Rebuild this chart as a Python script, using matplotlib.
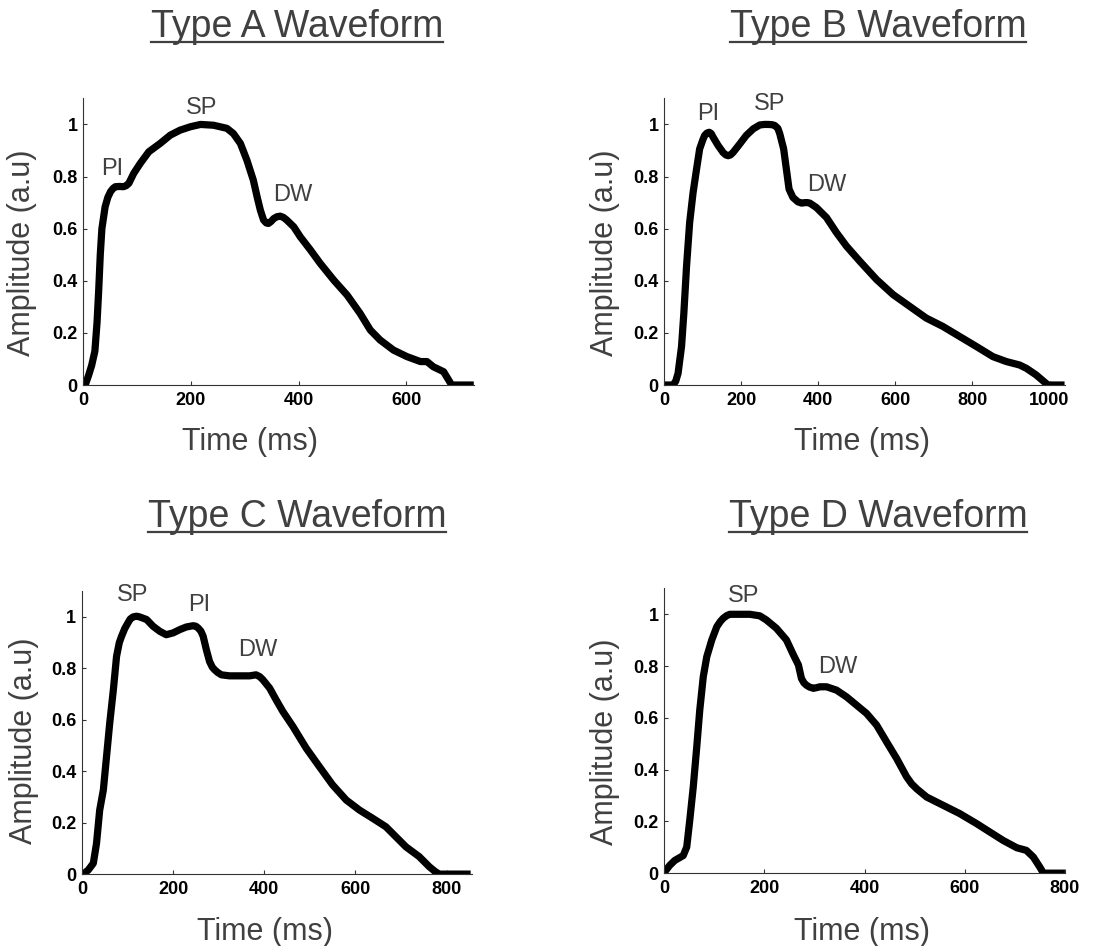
import matplotlib
matplotlib.use("Agg")
import matplotlib.pyplot as plt
from matplotlib.lines import Line2D

plt.rcParams['font.family'] = ['Liberation Sans', 'DejaVu Sans']

GRAY = '#404040'

# --- data (time in ms, normalised amplitude) ---
a_time = [0, 4, 10, 16, 22, 26, 29, 32, 35, 41, 46, 51, 56, 60, 68, 75, 80, 85, 94, 106,
          122, 143, 162, 180, 199, 218, 242, 267, 279, 292, 304, 316, 323, 329, 335, 340,
          344, 349, 354, 360, 366, 372, 378, 391, 403, 422, 440, 465, 490, 514, 533, 551,
          576, 601, 626, 638, 650, 669, 684, 725]
a_amp = [0, 0, 0.035, 0.075, 0.13, 0.24, 0.36, 0.5, 0.6, 0.684, 0.72, 0.742, 0.755, 0.761,
         0.762, 0.761, 0.765, 0.774, 0.812, 0.85, 0.895, 0.927, 0.959, 0.978, 0.991, 1.0,
         0.997, 0.985, 0.965, 0.927, 0.863, 0.786, 0.722, 0.671, 0.633, 0.622, 0.62, 0.628,
         0.639, 0.646, 0.648, 0.643, 0.633, 0.607, 0.569, 0.518, 0.467, 0.403, 0.345, 0.275,
         0.211, 0.173, 0.134, 0.109, 0.09, 0.09, 0.07, 0.051, 0.0, 0.0]

b_time = [0, 23, 30, 36, 45, 51, 58, 66, 75, 84, 92, 100, 105, 111, 117, 122, 127, 140, 153,
          160, 166, 172, 179, 196, 213, 231, 248, 260, 270, 280, 287, 295, 300, 310, 317, 324,
          334, 347, 357, 365, 372, 378, 395, 421, 447, 473, 507, 551, 594, 637, 680, 723,
          767, 810, 853, 888, 922, 940, 965, 996, 1039]
b_amp = [0, 0, 0.015, 0.045, 0.148, 0.276, 0.456, 0.623, 0.739, 0.829, 0.906, 0.94, 0.958,
         0.967, 0.97, 0.965, 0.951, 0.919, 0.892, 0.883, 0.88, 0.883, 0.893, 0.925, 0.958,
         0.983, 0.998, 1.0, 1.0, 0.999, 0.996, 0.985, 0.964, 0.906, 0.829, 0.752, 0.72,
         0.703, 0.698, 0.70, 0.70, 0.698, 0.681, 0.643, 0.585, 0.533, 0.476, 0.405, 0.347,
         0.302, 0.257, 0.225, 0.186, 0.148, 0.109, 0.09, 0.077, 0.064, 0.039, 0.0, 0.0]

c_time = [0, 3, 14, 25, 32, 39, 47, 54, 61, 69, 76, 82, 87, 94, 101, 106, 112, 120, 127, 142,
          156, 171, 185, 200, 215, 229, 244, 250, 255, 261, 266, 273, 280, 286, 291, 298,
          306, 324, 346, 368, 382, 390, 397, 412, 426, 441, 463, 492, 521, 550, 580, 609,
          638, 667, 689, 711, 740, 762, 775, 784, 853]
c_amp = [0, 0, 0.016, 0.042, 0.119, 0.249, 0.327, 0.457, 0.587, 0.717, 0.847, 0.9, 0.925,
         0.955, 0.977, 0.992, 1.0, 1.003, 1.0, 0.99, 0.964, 0.944, 0.931, 0.938, 0.951,
         0.961, 0.966, 0.964, 0.957, 0.945, 0.925, 0.873, 0.827, 0.805, 0.795, 0.784, 0.775,
         0.771, 0.771, 0.771, 0.775, 0.768, 0.756, 0.723, 0.678, 0.632, 0.574, 0.49, 0.418,
         0.347, 0.288, 0.249, 0.217, 0.184, 0.145, 0.106, 0.068, 0.029, 0.01, 0.0, 0.0]

d_time = [0, 3, 11, 21, 38, 45, 51, 58, 65, 71, 78, 85, 95, 105, 112, 118, 125, 131, 151, 171,
          191, 204, 224, 244, 258, 268, 274, 279, 284, 290, 298, 305, 311, 324, 344, 364,
          384, 404, 424, 444, 464, 484, 494, 504, 524, 557, 590, 624, 650, 677, 704, 723,
          737, 750, 757, 800]
d_amp = [0.01, 0.01, 0.03, 0.049, 0.068, 0.101, 0.204, 0.333, 0.488, 0.63, 0.759, 0.836,
         0.901, 0.952, 0.972, 0.985, 0.995, 1.0, 1.0, 1.0, 0.994, 0.978, 0.946, 0.901,
         0.843, 0.804, 0.752, 0.735, 0.726, 0.719, 0.714, 0.717, 0.72, 0.72, 0.707, 0.681,
         0.649, 0.617, 0.572, 0.507, 0.443, 0.372, 0.345, 0.326, 0.294, 0.262, 0.23, 0.191,
         0.159, 0.126, 0.098, 0.088, 0.062, 0.023, 0.0, 0.0]

titles = ["Type A Waveform", "Type B Waveform", "Type C Waveform", "Type D Waveform"]
x_limits = [725, 1040, 855, 800]
x_ticks = [[0, 200, 400, 600], [0, 200, 400, 600, 800, 1000],
           [0, 200, 400, 600, 800], [0, 200, 400, 600, 800]]
y_ticks = [0, 0.2, 0.4, 0.6, 0.8, 1]
y_tick_labels = ["0", "0.2", "0.4", "0.6", "0.8", "1"]

# peak labels: (text, time, amplitude)
peaks = [
    [("PI", 54, 0.83), ("SP", 220, 1.065), ("DW", 389, 0.728)],
    [("PI", 114, 1.04), ("SP", 273, 1.077), ("DW", 421, 0.768)],
    [("SP", 112, 1.085), ("PI", 257, 1.047), ("DW", 385, 0.872)],
    [("SP", 158, 1.07), ("DW", 346, 0.795)],
]

series = [(a_time, a_amp), (b_time, b_amp), (c_time, c_amp), (d_time, d_amp)]

# layout (figure fractions)
axes_rects = [[0.075, 0.593, 0.353, 0.303], [0.600, 0.593, 0.362, 0.303],
              [0.074, 0.076, 0.352, 0.299], [0.600, 0.077, 0.362, 0.301]]
title_pos = [(297 / 1107, 1 - 37 / 946), (878 / 1107, 1 - 37 / 946),
             (297 / 1107, 1 - 527 / 946), (878 / 1107, 1 - 527 / 946)]
xlabel_pos = [(0.427, -0.146), (0.494, -0.146), (0.469, -0.152), (0.494, -0.154)]
ylabel_pos = [(-0.118, 0.463), (-0.11, 0.463), (-0.11, 0.473), (-0.11, 0.463)]

fig = plt.figure(figsize=(11.07, 9.46), dpi=100)

title_texts = []
for i, (t, amp) in enumerate(series):
    ax = fig.add_axes(axes_rects[i])
    ax.plot(t, amp, color='black', lw=5.2, solid_joinstyle='round', solid_capstyle='butt')
    ax.set_xlim(0, x_limits[i])
    ax.set_ylim(0, 1.1)
    ax.set_xticks(x_ticks[i])
    ax.set_xticklabels([str(v) for v in x_ticks[i]])
    ax.set_yticks(y_ticks)
    ax.set_yticklabels(y_tick_labels)
    for s in ['top', 'right']:
        ax.spines[s].set_visible(False)
    for s in ['left', 'bottom']:
        ax.spines[s].set_linewidth(0.8)
        ax.spines[s].set_color('#333333')
    ax.tick_params(direction='in', length=3, width=0.8, colors='#333333',
                   labelcolor='black', labelsize=13)
    ax.tick_params(axis='x', pad=5)
    ax.tick_params(axis='y', pad=4)
    for lab in ax.get_xticklabels() + ax.get_yticklabels():
        lab.set_fontweight('bold')

    ax.set_xlabel("Time (ms)", fontsize=22, color=GRAY, va='top')
    ax.xaxis.set_label_coords(*xlabel_pos[i])
    ax.set_ylabel("Amplitude (a.u)", fontsize=22, color=GRAY)
    ax.yaxis.set_label_coords(*ylabel_pos[i])

    for name, px, py in peaks[i]:
        ax.text(px, py, name, fontsize=17, color=GRAY, ha='center', va='center',
                clip_on=False)

    tx, ty = title_pos[i]
    title_texts.append(fig.text(tx, ty, titles[i], fontsize=27, color=GRAY,
                                ha='center', va='baseline'))

# underline the titles
fig.canvas.draw()
renderer = fig.canvas.get_renderer()
for txt in title_texts:
    bb = txt.get_window_extent(renderer=renderer)
    x0, y0 = fig.transFigure.inverted().transform((bb.x0, bb.y0 + 3))
    x1, _ = fig.transFigure.inverted().transform((bb.x1, bb.y0 + 3))
    fig.add_artist(Line2D([x0, x1], [y0, y0], transform=fig.transFigure,
                          color=GRAY, lw=1.6))

fig.savefig("out.png", dpi=100)
